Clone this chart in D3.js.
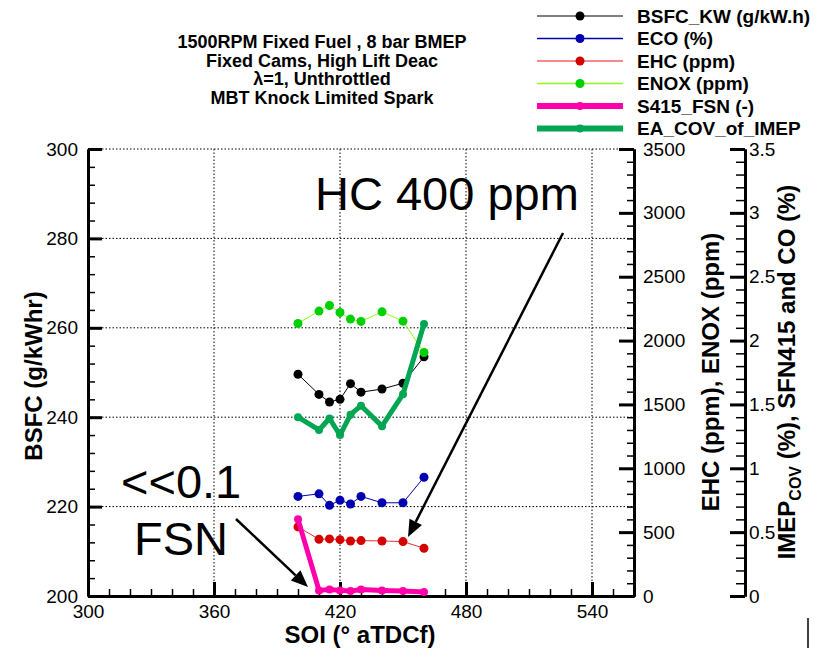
<!DOCTYPE html>
<html>
<head>
<meta charset="utf-8">
<script src="https://cdn.jsdelivr.net/npm/d3@7"></script>
<style>
  body { margin: 0; background: #fff; }
  svg { font-family: "Liberation Sans", Arial, sans-serif; }
  .axis text { font-size: 19px; fill: #000; }
  .grid line { stroke: #000; stroke-width: 1; stroke-dasharray: 1.5,2; }
</style>
</head>
<body>
<svg id="chart" width="821" height="651"></svg>
<script>
// data
const soi   = [400, 410, 415, 420, 425, 430, 440, 450, 460];
const bsfc  = [249.6, 245.1, 243.4, 244.0, 247.5, 245.6, 246.3, 247.6, 253.5];
const eco   = [0.78, 0.80, 0.71, 0.75, 0.72, 0.78, 0.73, 0.73, 0.93];
const ehc   = [541, 444, 447, 441, 431, 434, 431, 426, 374];
const enox  = [2134, 2231, 2275, 2220, 2168, 2150, 2225, 2152, 1907];
const fsn   = [0.60, 0.044, 0.05, 0.044, 0.039, 0.05, 0.044, 0.039, 0.031];
const cov   = [1.40, 1.30, 1.39, 1.26, 1.42, 1.49, 1.33, 1.58, 2.13];

const xTicks    = [300, 360, 420, 480, 540];
const bsfcTicks = [200, 220, 240, 260, 280, 300];
const ppmTicks  = [0, 500, 1000, 1500, 2000, 2500, 3000, 3500];
const pctTicks  = [0, 0.5, 1, 1.5, 2, 2.5, 3, 3.5];

const titleLines = ["1500RPM Fixed Fuel , 8 bar BMEP", "Fixed Cams, High Lift Deac",
                    "\u03bb=1, Unthrottled", "MBT Knock Limited Spark"];

const svg = d3.select("#chart");
const pLeft = 88, pRight = 634, pTop = 149, pBottom = 596;

const x    = d3.scaleLinear().domain([300, 560]).range([pLeft, pRight]);
const yL   = d3.scaleLinear().domain([200, 300]).range([pBottom, pTop]);
const yPpm = d3.scaleLinear().domain([0, 3500]).range([pBottom, pTop]);
const yPct = d3.scaleLinear().domain([0, 3.5]).range([pBottom, pTop]);

// grid (dotted)
const grid = svg.append("g").attr("class", "grid");
grid.selectAll(".gx").data(xTicks.slice(1)).join("line")
  .attr("x1", d => x(d)).attr("x2", d => x(d)).attr("y1", pTop).attr("y2", pBottom);
grid.selectAll(".gy").data(bsfcTicks.slice(1)).join("line")
  .attr("x1", pLeft).attr("x2", pRight).attr("y1", d => yL(d)).attr("y2", d => yL(d));

// helper: range of minor tick values
function minors(a, b, step) {
  return d3.range(Math.round((b - a) / step) + 1).map(i => +(a + i * step).toFixed(4));
}
const plain = d => String(d);

// draws minor + major ticks of one axis inside group g
function drawAxis(g, axisFn, scale, minorVals, majorVals, minorLen, majorLen, pad) {
  const mi = g.append("g").call(axisFn(scale).tickValues(minorVals).tickFormat("")
    .tickSizeInner(-minorLen).tickSizeOuter(0));
  mi.selectAll(".tick line").attr("stroke-width", 1.5);
  mi.select(".domain").attr("stroke-width", 3);
  const ma = g.append("g").call(axisFn(scale).tickValues(majorVals).tickFormat(plain)
    .tickSizeInner(-majorLen).tickSizeOuter(0).tickPadding(pad));
  ma.selectAll(".tick line").attr("stroke-width", 3);
  ma.select(".domain").attr("stroke-width", 3);
  ma.attr("font-family", null).attr("font-size", null);
  mi.attr("font-family", null);
}

drawAxis(svg.append("g").attr("class", "axis").attr("transform", `translate(0,${pBottom})`),
  d3.axisBottom, x, minors(300, 560, 10), xTicks, 7, 14, 9);
drawAxis(svg.append("g").attr("class", "axis").attr("transform", `translate(${pLeft},0)`),
  d3.axisLeft, yL, minors(200, 300, 4), bsfcTicks, 7, 14, 10);
drawAxis(svg.append("g").attr("class", "axis").attr("transform", `translate(${pRight},0)`),
  d3.axisRight, yPpm, minors(0, 3500, 100), ppmTicks, 7, 15, 9);
drawAxis(svg.append("g").attr("class", "axis").attr("transform", "translate(745,0)"),
  d3.axisRight, yPct, minors(0, 3.5, 0.1), pctTicks, 9, 15, 4);

// series
const series = [
  {name: "BSFC_KW (g/kW.h)", vals: bsfc, y: yL,   line: "#000",    leg: "#555",    dot: "#000",    w: 1, lw: 1.5, r: 4.5},
  {name: "ECO (%)",          vals: eco,  y: yPct, line: "#0000a8", leg: "#0000a8", dot: "#0000b0", w: 1, lw: 1.5, r: 4.5},
  {name: "EHC (ppm)",        vals: ehc,  y: yPpm, line: "#e03434", leg: "#ee6666", dot: "#d40000", w: 1, lw: 1.5, r: 4.5},
  {name: "ENOX (ppm)",       vals: enox, y: yPpm, line: "#8cff1a", leg: "#8cff1a", dot: "#00d000", w: 1, lw: 1.5, r: 4.5},
  {name: "S415_FSN (-)",     vals: fsn,  y: yPct, line: "#ff00aa", leg: "#ff00aa", dot: "#ff00aa", w: 5, lw: 6,   r: 4},
  {name: "EA_COV_of_IMEP",   vals: cov,  y: yPct, line: "#00a651", leg: "#00a651", dot: "#00a651", w: 5, lw: 6,   r: 4}
];

series.forEach(s => {
  const pts = soi.map((d, i) => [d, s.vals[i]]);
  svg.append("path").datum(pts)
    .attr("fill", "none").attr("stroke", s.line).attr("stroke-width", s.w)
    .attr("stroke-linejoin", "round")
    .attr("d", d3.line().x(d => x(d[0])).y(d => s.y(d[1])));
  svg.append("g").selectAll("circle").data(pts).join("circle")
    .attr("cx", d => x(d[0])).attr("cy", d => s.y(d[1])).attr("r", s.r).attr("fill", s.dot);
});

// legend
const lg = svg.append("g");
series.forEach((s, i) => {
  const yy = 16 + i * 22.5;
  lg.append("line").attr("x1", 537).attr("x2", 623).attr("y1", yy).attr("y2", yy)
    .attr("stroke", s.leg).attr("stroke-width", s.lw);
  lg.append("circle").attr("cx", 580).attr("cy", yy).attr("r", s.r).attr("fill", s.dot);
  lg.append("text").attr("x", 637).attr("y", yy).attr("dy", "0.36em")
    .attr("font-size", 19).attr("font-weight", "bold").text(s.name);
});

// title
svg.append("g").selectAll("text").data(titleLines).join("text")
  .attr("x", 322).attr("y", (d, i) => 48 + i * 18.5)
  .attr("text-anchor", "middle").attr("font-size", 18).attr("font-weight", "bold")
  .text(d => d);

// axis titles
svg.append("text").attr("x", 360).attr("y", 643).attr("text-anchor", "middle")
  .attr("font-size", 24).attr("font-weight", "bold").text("SOI (\u00b0 aTDCf)");
svg.append("text").attr("transform", "translate(42,376) rotate(-90)").attr("text-anchor", "middle")
  .attr("font-size", 24).attr("font-weight", "bold").text("BSFC (g/kWhr)");
svg.append("text").attr("transform", "translate(719,372) rotate(-90)").attr("text-anchor", "middle")
  .attr("font-size", 24).attr("font-weight", "bold").text("EHC (ppm), ENOX (ppm)");
const imep = svg.append("text").attr("transform", "translate(795,372) rotate(-90)")
  .attr("text-anchor", "middle").attr("font-size", 24).attr("font-weight", "bold");
imep.append("tspan").text("IMEP");
imep.append("tspan").attr("font-size", 16).attr("dy", 6).text("COV");
imep.append("tspan").attr("dy", -6).text(" (%), SFN415 and CO (%)");

// annotations
function arrow(x1, y1, x2, y2) {
  const a = Math.atan2(y2 - y1, x2 - x1), len = 17, half = 7;
  const bx = x2 - len * Math.cos(a), by = y2 - len * Math.sin(a);
  svg.append("line").attr("x1", x1).attr("y1", y1).attr("x2", bx).attr("y2", by)
    .attr("stroke", "#000").attr("stroke-width", 2.5);
  svg.append("polygon").attr("fill", "#000").attr("points", [
    [x2, y2],
    [bx + half * Math.sin(a), by - half * Math.cos(a)],
    [bx - half * Math.sin(a), by + half * Math.cos(a)]
  ].map(p => p.join(",")).join(" "));
}
svg.append("text").attr("x", 315).attr("y", 210).attr("font-size", 47).text("HC 400 ppm");
svg.append("text").attr("x", 121).attr("y", 498).attr("font-size", 47).text("<<0.1");
svg.append("text").attr("x", 134).attr("y", 555).attr("font-size", 47).text("FSN");
arrow(563, 233, 408, 537);
arrow(236, 519, 308, 587);

// stray cursor mark at bottom right
svg.append("line").attr("x1", 808).attr("x2", 808).attr("y1", 618).attr("y2", 648)
  .attr("stroke", "#000").attr("stroke-width", 1.5);
</script>
</body>
</html>
